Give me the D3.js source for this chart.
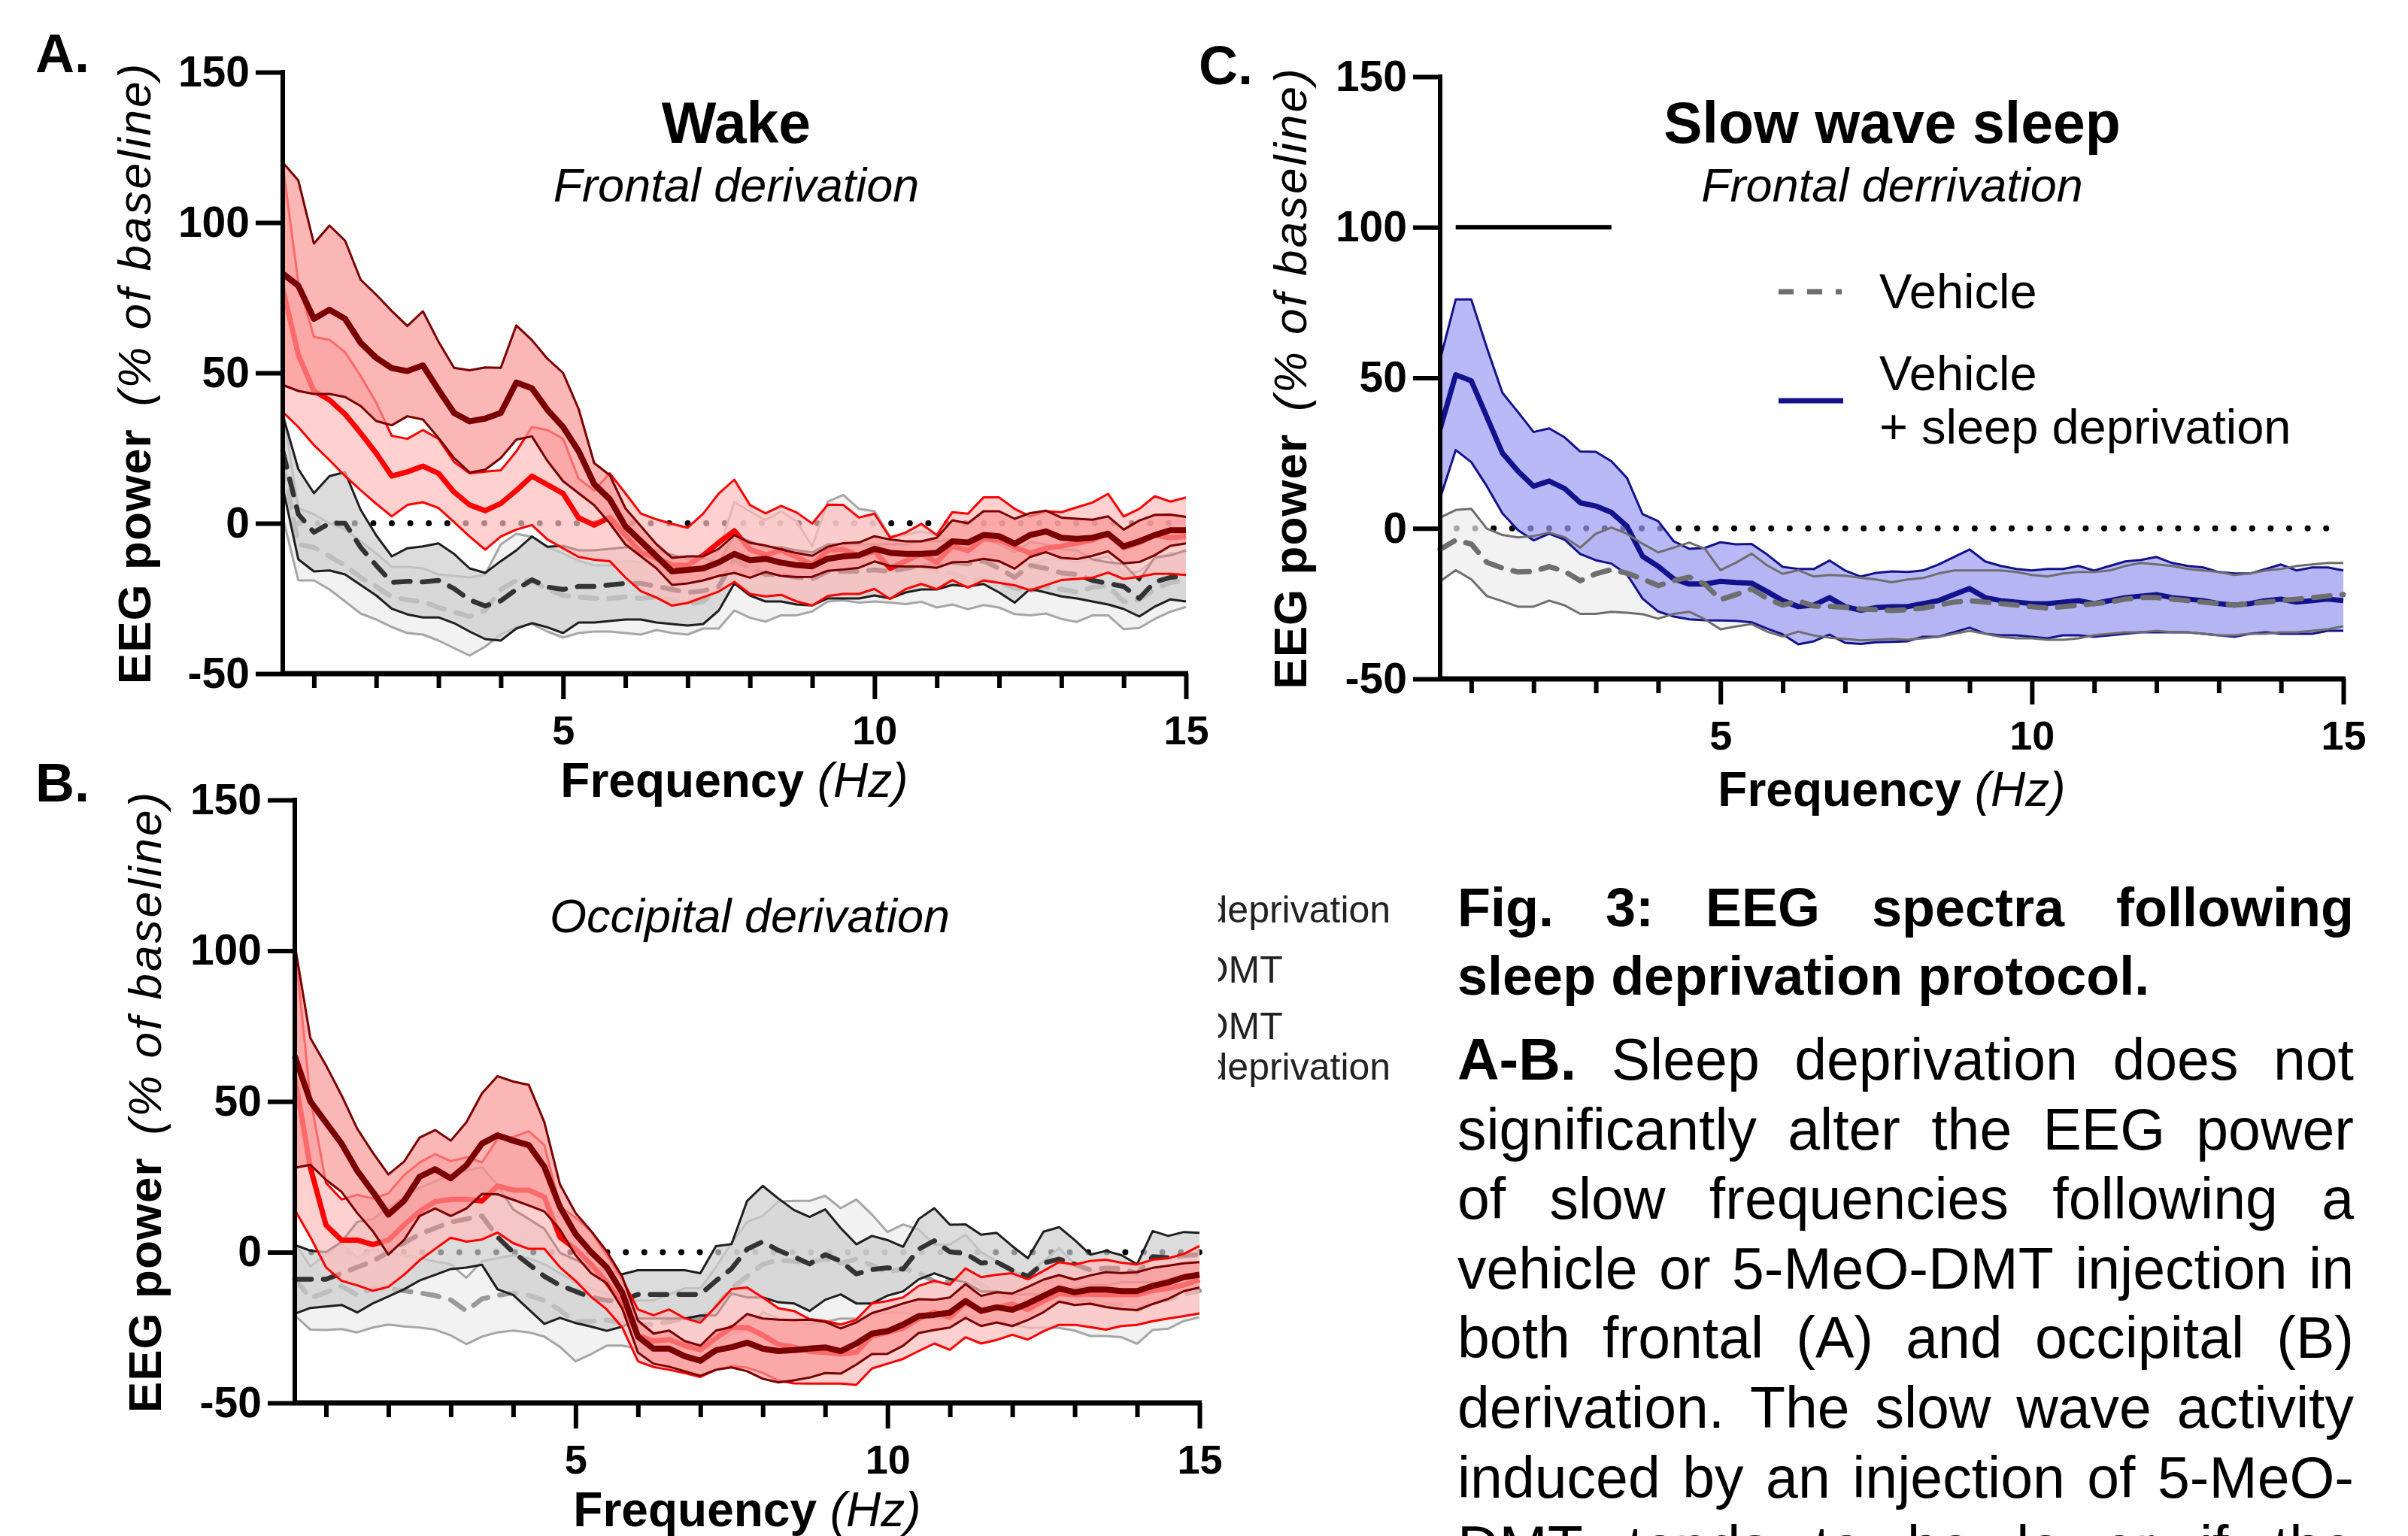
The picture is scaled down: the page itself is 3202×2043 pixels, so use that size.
<!DOCTYPE html>
<html>
<head>
<meta charset="utf-8">
<script src="https://cdn.jsdelivr.net/npm/d3@7"></script>
<style>
  body { margin: 0; background: #fff; }
  text { font-family: "Liberation Sans", Arial, Helvetica, sans-serif; }
</style>
</head>
<body>
<script>
// ---------- data (% of baseline) ----------
var freq = [0.5,0.75,1,1.25,1.5,1.75,2,2.25,2.5,2.75,3,3.25,3.5,3.75,4,4.25,4.5,4.75,5,5.25,5.5,5.75,6,6.25,6.5,6.75,7,7.25,7.5,7.75,
            8,8.25,8.5,8.75,9,9.25,9.5,9.75,10,10.25,10.5,10.75,11,11.25,11.5,11.75,12,12.25,12.5,12.75,13,13.25,13.5,13.75,14,14.25,14.5,14.75,15];

var xTicks = [1,2,3,4,5,6,7,8,9,10,11,12,13,14,15];
var xTickLabels = [5,10,15];
var yTicks = [-50,0,50,100,150];

// A. Wake, frontal
var aVehMean = [20,-7,-8,-11,-14,-18,-21,-24.5,-25.5,-26,-28,-29.5,-31,-29,-22,-19,-19,-22,-24,-24.5,-25,-25,-24.5,-25,-24.5,-25.5,-27,-26,-22,-11,
  -13.7,-15.8,-13.3,-15,-18.5,-9.4,-8.1,-10.8,-11,-15.4,-15.4,-14.4,-16,-16.5,-18.8,-18.6,-19.5,-21.6,-22.3,-21,-21.9,-22.9,-21.3,-20.8,-26.1,-25.4,-21.9,-19.7,-18.9];
var aVehSem = [18,12,11,11,12,12,11,10,11,11,11,12,13,12,15,15.5,14.5,14,14,12,11,11,12,12,11,11,10,9,13,18,
  17.7,16.9,17.3,15.6,10.8,16.6,17.5,15.6,15,11,11.5,11.7,12,10.5,9.8,8.6,8.5,8.6,8.3,9,9.9,9.9,9.3,9.8,9.1,9.4,9.9,9.7,8.9];
var aVehSdMean = [24,3,-3,0,0,-8,-14,-19.7,-19.3,-19.5,-19,-21.7,-25.5,-27.5,-25.8,-22,-18.8,-21.2,-22,
  -21,-21,-20.5,-20,-20,-21,-22,-23,-22.5,-21,
  -12,-15,-17,-17,-18,-18.5,-16,-16,-16,-15.5,-16,-15,-14,-14,-13,-13.5,-12.5,-15,-18,-14,-15,-16.5,-17,-19,-20,-21,-25,-19.5,-18,-17.5];
var aVehSdSem = [12,15,13,15.7,17,12.5,10,8.7,11,11.8,12.3,11.5,10.5,11,13.2,13,14.4,13.4,14.5,
  12,12,12,12,12,12,11.5,11,11,8,
  8,9,9,9,9,8.8,9,9,9,8.5,9,8,8,8,7.5,7.5,7.7,8,8.4,7.8,8,7.8,8,7,7,7.5,6,8.2,7.3,8.5];
var aDmtMean = [78,56,44,41,36.3,30,23.3,15.7,17.1,19,16.6,10.4,6.1,4.2,6.6,10.9,15.7,12.8,9.9,
  1.8,-0.6,2,-4,-9.7,-11.7,-13.8,-14,-10.7,-6.4,-2.5,
  -8.7,-10.5,-9,-11.2,-13.7,-9,-8.7,-10.8,-9.3,-15,-12.5,-10.2,-12.9,-7.6,-9.1,-5.2,-5.6,-7.9,-10,-8.3,-7.6,-6.6,-5.6,-3.3,-8.1,-6.5,-3.9,-4.8,-4.3];
var aDmtSem = [41,24,18,20,20.6,19,16.8,13.4,11,12,11.5,10,10.5,13,11,13,16.3,18.2,18.2,
  13,11.5,14.6,14,12.9,13,13.6,12.5,13.9,16.3,17,
  14.8,13.8,14.8,14.8,13.6,15.2,14.8,12.7,12.5,10.2,9.4,10,9,11.3,12.3,13.8,14.2,12.7,12.3,12.3,11.3,11.9,12.5,13.1,10.4,11.3,12.9,12,12.9];
var aDmtSdMean = [83,79,68,71,68,60,55,51.6,50.6,52.5,44.4,36.7,33.9,34.8,36.7,46.8,44.9,37.7,32,
  24,13,8,-1,-6,-11,-16,-15.5,-15,-13,
  -10.2,-12.3,-11.8,-13.1,-13.9,-14.3,-11.8,-11,-10.6,-8.5,-9.8,-10.2,-10.2,-9.8,-6,-6.4,-3.9,-4.3,-6.8,-3.9,-2.7,-4.8,-5.2,-4.8,-3.5,-7.7,-6,-3.9,-2.3,-2.3];
var aDmtSdSem = [37,35,25,28,26,21,21,19,15,18,16,15,17,17,15,19,16,17,18,
  14,7,8,6,5,4,4.5,4.5,4,4.5,
  6.3,5.8,4.4,4.4,4,3.5,4,4.4,4.2,4.2,4.4,4.2,4.2,5,7,6.4,7.9,8.3,8.3,7.3,6.9,6.7,6.7,6,5.8,5.6,6.9,6.7,5.2,4.4];

// B. Occipital
var bVehMean = [-9,-15.2,-13.3,-11.3,-14.2,-12,-12,-12.8,-13.5,-14.4,-15.8,-19.5,-15.5,-14.3,-13.5,-14.3,-16,-19.2,-23.1,-22.9,-22.5,-23.5,-24,-24,-23,-22,-22,-18,-12,-8,
  -4,-2.6,-3,-3.5,-2.2,-3.7,-2.3,-4.3,-6.7,-5.4,-6.8,-9.8,-9.8,-7.6,-11,-13,-15.3,-16.3,-14,-11.9,-15,-16.9,-17.4,-17.6,-19.2,-16.4,-15.7,-13.9,-12.8];
var bVehSem = [12,10.5,12.5,14.2,12.4,13,12,11.8,11.5,11.3,11.8,11,12.5,12.3,12.5,12.3,12,12.2,13.1,10.9,8.5,7.5,8,8,9,10,10,13,15,18,
  16,19.4,20,20.5,20.9,18.3,19.8,16.8,13.4,14.6,14.3,12.3,12.3,13.4,11,10,8.7,8.8,11,13.2,11,10.9,10.4,10.6,11.2,9.4,9.7,8.9,8.8];
var bVehSdMean = [-9,-9,-9,-7,-5,-3,0,3,6,8,10,11,12,5,0,-4,-8,-11,-13,-15,-16,-16,-14,-14,-14,-14,-14,-9.5,-5.5,1,
  3.5,0.6,-1.5,-3.9,-0.8,-3,-7.2,-5.8,-5.2,-5.6,1,3.8,0.1,-0.4,-3.6,-3.3,-6,-8,-3.6,-2.3,-4,-5.9,-5.3,-5.5,-7,-1.5,-1.8,-1.1,-0.8];
var bVehSdSem = [11.4,9.5,9,10.5,15,14,14.7,15.3,15.4,15.5,15.6,16.1,16.2,17.3,14.2,15,15.8,10.8,10.5,9.7,10.1,8.7,8,8,8,8,7,11.5,8.2,16,
  18.5,17.2,15.5,15.6,15,11,9.8,11.2,9.2,7.4,10,10.8,9,9.6,9.4,9.7,8,6,10.4,10.6,8,5.1,5.7,4.5,3,8.5,7.2,7.8,7.2];
var bDmtMean = [58,28,9,4,4,2.5,4,9,13.5,16.8,17.5,17.5,17,22,20.6,20.6,18.3,5,1,-4,-10,-17,-27.6,-29.5,-29,-31,-32.4,-28.5,-25,-25,
  -27.5,-30.6,-31.5,-32.9,-33.2,-33.8,-33.2,-27.8,-26.6,-25.2,-22,-19.9,-21.6,-16.8,-19.3,-18.3,-17.2,-19,-16.2,-13.7,-14.1,-13.9,-14.1,-14,-14.1,-12.7,-12,-10.9,-9.1];
var bDmtSem = [44,23,14,13.5,15,15.3,15.5,16.5,16.2,15.7,12.7,14,12.8,15.5,17.6,19.5,17.2,10,10.5,10.8,9,8,8.6,8.6,10,9.1,9,10.5,12.8,13.3,
  12.5,12,12,10.7,10.4,9.8,10.8,10.8,10.4,10.2,10.8,10.4,10.8,11.4,11,10.8,10.2,10,10,10.4,10,11,11.6,10.5,10,10.2,10,10.3,11.2];
var bDmtSdMean = [65,50,43,36,27,20,12.5,17,25,27.5,24.5,28.8,36,38.8,37,35.5,28.3,15,6,0,-5,-13.5,-28,-32,-32,-34.5,-36,-32.5,-31.5,-30,
  -32,-32.8,-32.5,-32,-31.6,-32.8,-30.3,-27,-26.2,-24,-21.2,-20.8,-20,-16.2,-19.5,-18.3,-19.1,-17,-14.5,-12,-13.3,-12.4,-12.4,-12.9,-12.9,-11.2,-10,-8.3,-7.5];
var bDmtSdSem = [37,21,19,16,14,13,13.3,13,13,13,12.5,14.3,16.7,19.6,19.6,20,14.8,7.5,7,7,5.3,5.3,5.3,5,6,5,5,6.5,6.7,9.5,
  10,10.4,10,9.6,8.5,7.5,7,6.8,7.5,7,5.6,5,5,5.6,5,5,5.4,5.5,5.4,4.4,4.2,4.7,5.8,6,6.3,6,5.5,4.6,4.2];

// C. Slow wave sleep, frontal
var cVehMean = [-7,-3.9,-5.2,-11.3,-13.2,-14.5,-14.3,-12.7,-14.3,-17.4,-15.1,-13.7,-14.9,-16.8,-19,-17.4,-16.2,-18.5,-23.7,-22,-20.1,-23.3,-25.5,-24.1,-25.8,-25.9,-26.2,-26.8,-27,-27.3,
  -27,-26.5,-25.5,-24.5,-24,-24.5,-25,-25.5,-26,-26.5,-26,-25.5,-25,-24.5,-23.5,-23,-23,-23.5,-24,-24.5,-25,-25.5,-25,-24.5,-24,-23.5,-23,-22.5,-22];
var cVehSem = [10.6,10,11.7,11.2,11,11.5,11.7,11.3,11.3,11,13.3,14,13.1,11.7,11,11,11.5,11.7,9.8,10.6,11.7,11,10.4,10.2,9.8,10.4,10.5,10.4,10,9.4,
  10,10,10.5,10.5,10,10.5,11,11,10.5,10.5,11,11,10.5,10.5,11,11.5,11,11,10.5,10.5,10.5,10,10,10.5,10.5,11,11,11,10.5];
var cSdMean = [33,51,49,37,25,19,14,15.7,13.2,8.5,7.4,5.3,0.7,-9.3,-12.6,-16.8,-18.5,-18.5,-17.6,-18,-18.2,-21,-24,-26,-25.5,-23,-26,-27.2,-26.3,-26,
  -26,-25,-24,-22,-20,-23,-24,-24.5,-25,-25,-24.5,-24,-25,-24,-23,-22.5,-22,-23,-23.5,-24,-25,-25.5,-25,-24,-23.5,-24.5,-24,-23.5,-24];
var cSdSem = [23,25,27,23,20,19.6,18,17.5,17,17,18,17,16,14,15,12.5,11.7,12,13,12.7,13,12.3,11.2,12.5,12,12.3,12,11.2,11.5,11.7,
  11.5,11,12,12.5,13,12,11.5,11,11,11.5,11,11.5,11,11.5,12,12,12.5,11.5,11,11,10.5,10.5,10,10.5,11.5,10.5,11,10.5,10];
var cSigBar = [0.75, 3.25];   // significance bar, drawn at 100 %
var cSigLevel = 100;

var bLegendLabels = [["Vehicle", "+ sleep deprivation"], ["5-MeO-DMT"], ["5-MeO-DMT", "+ sleep deprivation"]];

var captionTitle = ["Fig. 3: EEG spectra following", "sleep deprivation protocol."];
var captionBody = [
  "A-B. Sleep deprivation does not",
  "significantly alter the EEG power",
  "of slow frequencies following a",
  "vehicle or 5-MeO-DMT injection in",
  "both frontal (A) and occipital (B)",
  "derivation. The slow wave activity",
  "induced by an injection of 5-MeO-",
  "DMT tends to be lower if the"
];

// ---------- drawing ----------
var W = 3202, H = 2043;
var FONT = "'Liberation Sans', Arial, Helvetica, sans-serif";

var svg = d3.select("body")
            .append("svg")
            .attr("width", W)
            .attr("height", H)
            .attr("font-family", FONT);

svg.append("rect").attr("width", W).attr("height", H).attr("fill", "#fff");

var styles = {
  veh:   { fill: "#ededed", edge: "#a6a6a6", line: "#9a9a9a", width: 6.5, dash: "22 16" },
  vehSD: { fill: "#cdcdcd", edge: "#1e1e1e", line: "#333333", width: 6.5, dash: "22 16" },
  dmt:   { fill: "#ffbcbc", edge: "#ff0000", line: "#ff0000", width: 7 },
  dmtSD: { fill: "#f99797", edge: "#7a0000", line: "#7a0000", width: 8 },
  cVeh:  { fill: "#ededed", edge: "#6e6e6e", line: "#6e6e6e", width: 7, dash: "22 16" },
  cSD:   { fill: "#9b9bf4", edge: "#12128c", line: "#12128c", width: 7 }
};

function seriesPoints(mean, sem) {
  return freq.map(function(f, i) {
    return { f: f, m: mean[i], lo: mean[i] - sem[i], hi: mean[i] + sem[i] };
  });
}

function drawFill(g, x, y, pts, st) {
  g.append("path")
   .datum(pts)
   .attr("d", d3.area().x(function(d) { return x(d.f); })
                       .y0(function(d) { return y(d.lo); })
                       .y1(function(d) { return y(d.hi); }))
   .attr("fill", st.fill)
   .attr("fill-opacity", 0.7);
}

function drawLines(g, x, y, pts, st) {
  ["hi", "lo"].forEach(function(k) {
    g.append("path")
     .datum(pts)
     .attr("d", d3.line().x(function(d) { return x(d.f); }).y(function(d) { return y(d[k]); }))
     .attr("fill", "none")
     .attr("stroke", st.edge)
     .attr("stroke-width", 3)
     .attr("stroke-linejoin", "round");
  });
  g.append("path")
   .datum(pts)
   .attr("d", d3.line().x(function(d) { return x(d.f); }).y(function(d) { return y(d.m); }))
   .attr("fill", "none")
   .attr("stroke", st.line)
   .attr("stroke-width", st.width)
   .attr("stroke-linejoin", "round")
   .attr("stroke-linecap", st.dash ? "round" : "butt")
   .attr("stroke-dasharray", st.dash || null);
}

function panel(p) {
  var x = d3.scaleLinear().domain([0.5, 15]).range([p.x0, p.x1]);
  var y = d3.scaleLinear().domain([-50, 150]).range([p.yb, p.yt]);
  var g = svg.append("g");

  // dotted zero line (sits under the bands)
  g.append("line")
   .attr("x1", x(0.5) + 22).attr("x2", x(15))
   .attr("y1", y(0)).attr("y2", y(0))
   .attr("stroke", "#000")
   .attr("stroke-width", 8)
   .attr("stroke-linecap", "round")
   .attr("stroke-dasharray", "0 24.6");

  p.series.forEach(function(s) {
    var pts = seriesPoints(s.mean, s.sem);
    if (s.order === "fill") drawFill(g, x, y, pts, s.st);
    else if (s.order === "lines") drawLines(g, x, y, pts, s.st);
    else { drawFill(g, x, y, pts, s.st); drawLines(g, x, y, pts, s.st); }
  });

  if (p.extra) p.extra(g, x, y);

  // y axis
  var ya = g.append("g")
    .attr("transform", "translate(" + p.x0 + ",0)")
    .call(d3.axisLeft(y).tickValues(yTicks).tickSize(36).tickSizeOuter(0).tickPadding(8)
            .tickFormat(function(d) { return String(d); }));
  ya.select(".domain").attr("stroke-width", 6).attr("d", "M0," + (p.yt - 3) + "V" + (p.yb + 3));
  ya.selectAll(".tick line").attr("stroke-width", 6);
  ya.attr("font-family", FONT).attr("font-size", 57).attr("font-weight", "bold");

  // x axis
  var xa = g.append("g")
    .attr("transform", "translate(0," + p.yb + ")")
    .call(d3.axisBottom(x).tickValues(xTicks).tickSize(18).tickSizeOuter(0).tickPadding(38)
            .tickFormat(function(d) { return xTickLabels.indexOf(d) >= 0 ? String(d) : ""; }));
  xa.select(".domain").attr("stroke-width", 7).attr("d", "M" + p.x0 + ",0H" + (p.x1 + 3));
  xa.selectAll(".tick line")
    .attr("stroke-width", 6)
    .attr("y2", function(d) { return xTickLabels.indexOf(d) >= 0 ? 34 : 19; });
  xa.attr("font-family", FONT).attr("font-size", 54).attr("font-weight", "bold");

  // axis titles
  var xt = svg.append("text")
    .attr("x", (p.x0 + p.x1) / 2).attr("y", p.xTitleY)
    .attr("text-anchor", "middle").attr("font-size", 64);
  xt.append("tspan").attr("font-weight", "bold").text("Frequency ");
  xt.append("tspan").attr("font-style", "italic").text("(Hz)");

  var yt = svg.append("text")
    .attr("transform", "translate(" + p.yTitleX + "," + ((p.yt + p.yb) / 2) + ") rotate(-90)")
    .attr("text-anchor", "middle").attr("font-size", 62);
  yt.append("tspan").attr("font-weight", "bold").attr("letter-spacing", 1).text("EEG power");
  yt.append("tspan").attr("dx", 30).attr("font-style", "italic").attr("letter-spacing", 3).text("(% of baseline)");

  // headings
  if (p.title) {
    svg.append("text").attr("x", p.titleX).attr("y", 190).attr("text-anchor", "middle")
       .attr("font-size", 77).attr("font-weight", "bold").text(p.title);
  }
  svg.append("text").attr("x", p.titleX).attr("y", p.subY).attr("text-anchor", "middle")
     .attr("font-size", 63).attr("font-style", "italic").text(p.sub);

  svg.append("text").attr("x", p.labX).attr("y", p.labY)
     .attr("font-size", 72).attr("font-weight", "bold").text(p.label);
}

// A. Wake, frontal
panel({
  x0: 376, x1: 1577, yt: 96, yb: 896, xTitleY: 1060, yTitleX: 200,
  title: "Wake", sub: "Frontal derivation", titleX: 979, subY: 268,
  label: "A.", labX: 47, labY: 96,
  series: [
    { mean: aVehMean,   sem: aVehSem,   st: styles.veh },
    { mean: aVehSdMean, sem: aVehSdSem, st: styles.vehSD },
    { mean: aDmtMean,   sem: aDmtSem,   st: styles.dmt },
    { mean: aDmtSdMean, sem: aDmtSdSem, st: styles.dmtSD }
  ]
});

// B. Occipital
panel({
  x0: 392, x1: 1595, yt: 1064, yb: 1866, xTitleY: 2030, yTitleX: 214,
  title: null, sub: "Occipital derivation", titleX: 997, subY: 1240,
  label: "B.", labX: 47, labY: 1066,
  series: [
    { mean: bVehMean,   sem: bVehSem,   st: styles.veh },
    { mean: bVehSdMean, sem: bVehSdSem, st: styles.vehSD },
    { mean: bDmtMean,   sem: bDmtSem,   st: styles.dmt },
    { mean: bDmtSdMean, sem: bDmtSdSem, st: styles.dmtSD }
  ]
});

// C. Slow wave sleep
panel({
  x0: 1915, x1: 3116, yt: 102, yb: 903, xTitleY: 1072, yTitleX: 1737,
  title: "Slow wave sleep", sub: "Frontal derrivation", titleX: 2516, subY: 268,
  label: "C.", labX: 1594, labY: 112,
  series: [
    { mean: cVehMean, sem: cVehSem, st: styles.cVeh, order: "fill" },
    { mean: cSdMean,  sem: cSdSem,  st: styles.cSD },
    { mean: cVehMean, sem: cVehSem, st: styles.cVeh, order: "lines" }
  ],
  extra: function(g, x, y) {
    g.append("line")
     .attr("x1", x(cSigBar[0])).attr("x2", x(cSigBar[1]))
     .attr("y1", y(cSigLevel)).attr("y2", y(cSigLevel))
     .attr("stroke", "#000").attr("stroke-width", 6);
  }
});

// C legend
svg.append("line").attr("x1", 2365).attr("x2", 2451).attr("y1", 388).attr("y2", 388)
   .attr("stroke", styles.cVeh.line).attr("stroke-width", 7).attr("stroke-dasharray", "20 18 20 18 8 40");
svg.append("text").attr("x", 2499).attr("y", 410).attr("font-size", 65).text("Vehicle");
svg.append("line").attr("x1", 2365).attr("x2", 2451).attr("y1", 533).attr("y2", 533)
   .attr("stroke", styles.cSD.line).attr("stroke-width", 7);
svg.append("text").attr("x", 2499).attr("y", 519).attr("font-size", 65).text("Vehicle");
svg.append("text").attr("x", 2499).attr("y", 590).attr("font-size", 65).text("+ sleep deprivation");

// panel B legend, mostly cut away in the source figure
svg.append("clipPath").attr("id", "cutB")
   .append("rect").attr("x", 1620).attr("y", 1100).attr("width", 300).attr("height", 400);
var lg = svg.append("g").attr("clip-path", "url(#cutB)").attr("font-size", 50).attr("fill", "#222");
var lgY = [[1174, 1227], [1307], [1382, 1436]];
bLegendLabels.forEach(function(lines, i) {
  lines.forEach(function(t, j) {
    lg.append("text").attr("x", 1428).attr("y", lgY[i][j]).text(t);
  });
});

// caption, justified by hand
function captionLine(str, y, size, allBold, justify) {
  var words = str.split(" ");
  var left = 1938, right = 3130;
  var items = words.map(function(w, i) {
    var bold = allBold || (str.indexOf("A-B.") === 0 && i === 0);
    var t = svg.append("text").attr("y", y).attr("font-size", size)
               .attr("font-weight", bold ? "bold" : "normal").text(w);
    return { t: t, w: t.node().getComputedTextLength() };
  });
  var total = d3.sum(items, function(d) { return d.w; });
  var gap = justify ? (right - left - total) / (items.length - 1) : size * 0.278;
  var cx = left;
  items.forEach(function(d) { d.t.attr("x", cx); cx += d.w + gap; });
}

captionLine(captionTitle[0], 1232, 72, true, true);
captionLine(captionTitle[1], 1323, 72, true, false);
captionBody.forEach(function(line, i) {
  captionLine(line, 1436 + i * 92.6, 77, false, true);
});
</script>
</body>
</html>
